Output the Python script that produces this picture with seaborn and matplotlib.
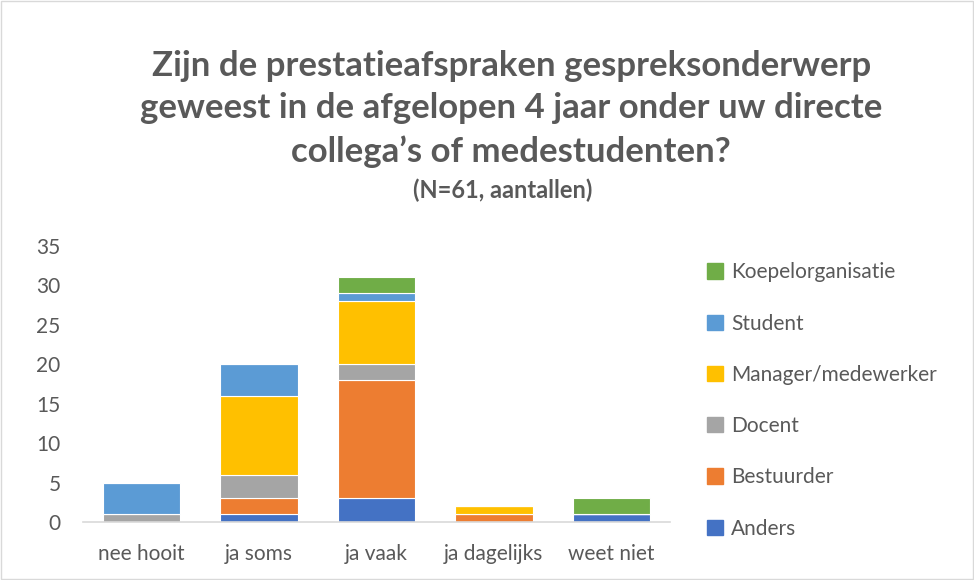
import matplotlib
matplotlib.use('Agg')
import matplotlib.pyplot as plt
import matplotlib.patches as mpatches
import seaborn as sns
import numpy as np

# %% data
categorieen = ['nee hooit', 'ja soms', 'ja vaak', 'ja dagelijks', 'weet niet']
anders = [0, 1, 3, 0, 1]
bestuurder = [0, 2, 15, 1, 0]
docent = [1, 3, 2, 0, 0]
manager = [0, 10, 8, 1, 0]
student = [4, 4, 1, 0, 0]
koepel = [0, 0, 2, 0, 2]

reeksen = ['Anders', 'Bestuurder', 'Docent', 'Manager/medewerker', 'Student', 'Koepelorganisatie']
waarden = [anders, bestuurder, docent, manager, student, koepel]
kleuren = ['#4472C4', '#ED7D31', '#A5A5A5', '#FFC000', '#5B9BD5', '#70AD47']

titelregels = ['Zijn de prestatieafspraken gespreksonderwerp',
               'geweest in de afgelopen 4 jaar onder uw directe',
               'collega’s of medestudenten?']
ondertitel = '(N=61, aantallen)'

# %% grafiek
sns.set_style('white')
plt.rcParams['font.family'] = ['Lato', 'DejaVu Sans']
grijs = '#595959'

fig = plt.figure(figsize=(9.74, 5.8), dpi=100)
ax = fig.add_axes([0.085, 0.1, 0.603, 0.476])

onder = np.zeros(len(categorieen))
for naam, vals, kleur in zip(reeksen, waarden, kleuren):
    sns.barplot(x=categorieen, y=vals, bottom=onder, color=kleur, width=0.66,
                saturation=1, edgecolor='white', linewidth=0.8, ax=ax, label=naam)
    onder = onder + np.array(vals)

ax.set_ylim(0, 35)
ax.set_yticks(range(0, 36, 5))
ax.tick_params(axis='both', labelsize=15, colors=grijs, length=0)
ax.tick_params(axis='y', pad=16)
ax.tick_params(axis='x', pad=16)
for s in ['top', 'right', 'left']:
    ax.spines[s].set_visible(False)
ax.spines['bottom'].set_color('#D9D9D9')
ax.spines['bottom'].set_linewidth(1.2)
ax.set_xlabel('')
ax.set_ylabel('')
if ax.get_legend():
    ax.get_legend().remove()

# legenda, omgekeerde volgorde
handles = [mpatches.Patch(color=k, label=n) for n, k in zip(reeksen, kleuren)][::-1]
fig.legend(handles=handles, loc='upper left', bbox_to_anchor=(0.707, 0.58),
           frameon=False, fontsize=15, labelcolor=grijs, labelspacing=1.5,
           handlelength=0.75, handleheight=0.75, handletextpad=0.4)

# titel, regel voor regel
for regel, y in zip(titelregels, [0.886, 0.814, 0.738]):
    fig.text(0.525, y, regel, ha='center', va='center', fontsize=25,
             fontweight='bold', color=grijs)
fig.text(0.516, 0.672, ondertitel, ha='center', va='center',
         fontsize=17, fontweight='bold', color=grijs)

# rand om de grafiek
fig.patches.append(mpatches.Rectangle((0.001, 0.001), 0.998, 0.998, transform=fig.transFigure,
                                      fill=False, edgecolor='#D9D9D9', linewidth=1))

fig.savefig('out.png', dpi=100)
